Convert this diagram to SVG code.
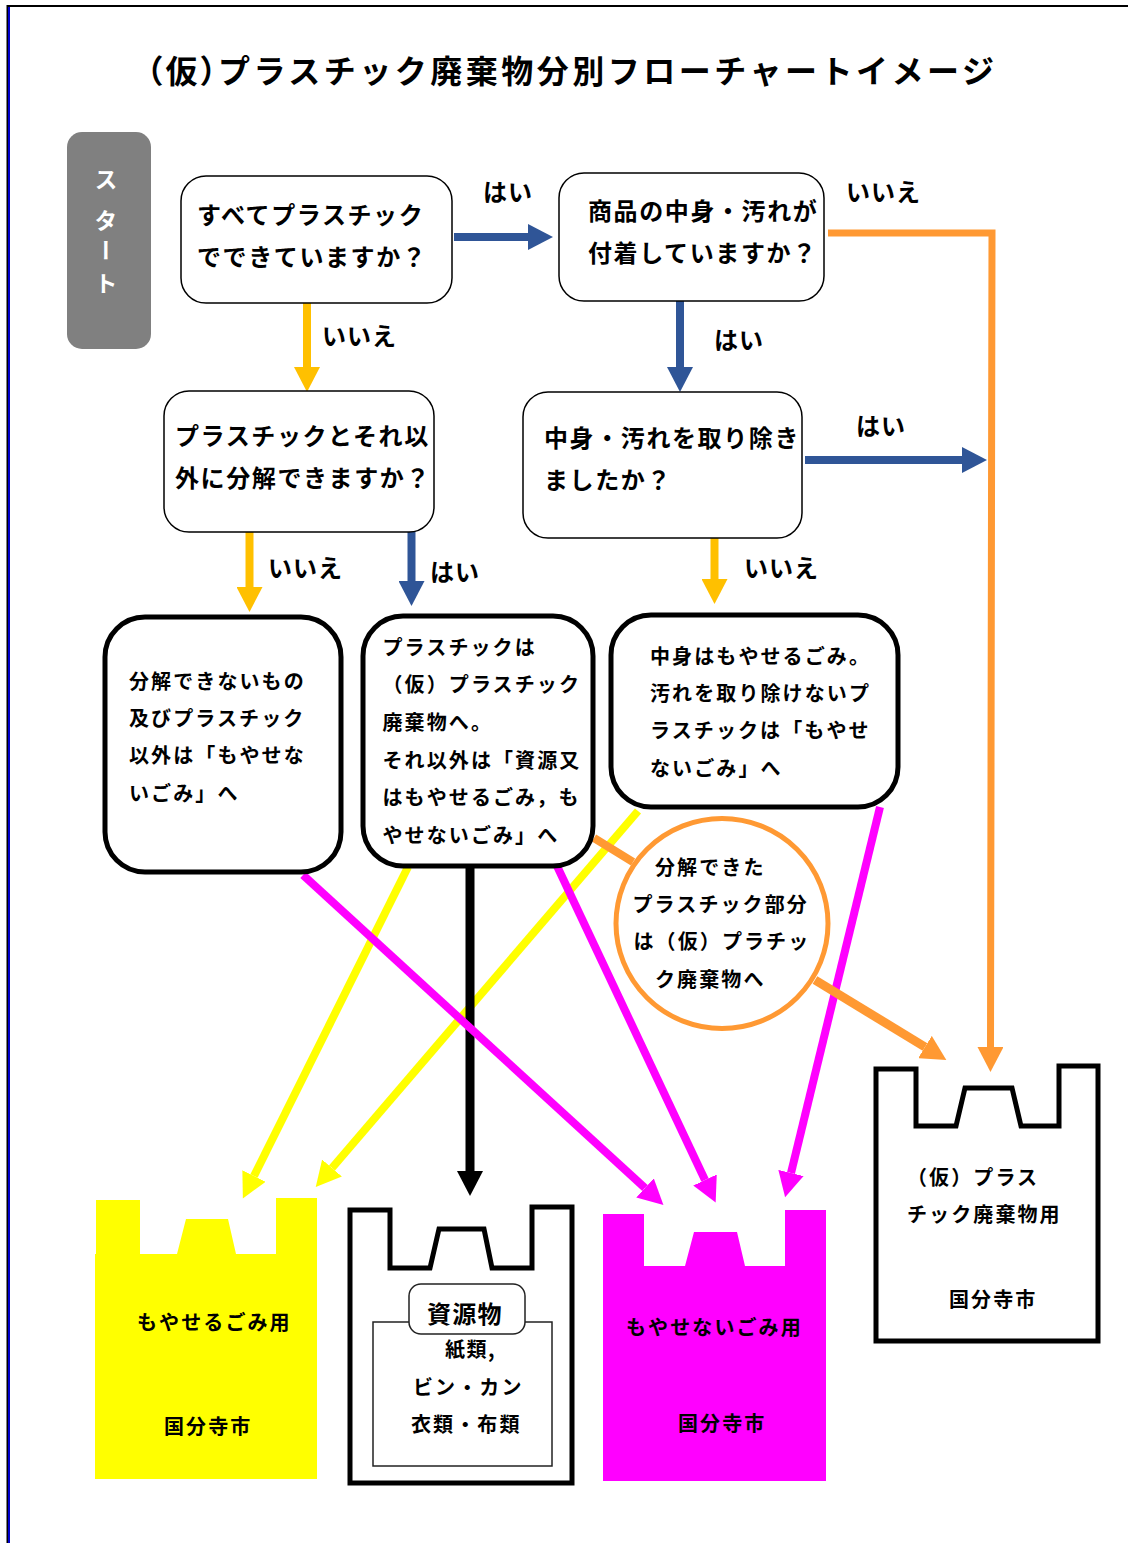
<svg xmlns="http://www.w3.org/2000/svg" width="1128" height="1543" viewBox="0 0 1128 1543">
<style>
text{font-family:"Noto Sans CJK JP","Noto Sans",sans-serif;font-weight:700;fill:#000}
.q{font-size:24px;letter-spacing:1.6px}
.l{font-size:24px;letter-spacing:1px}
.r{font-size:20px;letter-spacing:2.100px}
.title{font-size:32px;letter-spacing:3.500px;font-weight:700}
.box{fill:#fff;stroke:#000;stroke-width:1.5}
.res{fill:#fff;stroke:#000;stroke-width:5}
.bag{fill:#fff;stroke:#000;stroke-width:5}
.c{fill:none}
.blue{stroke:#2F5597;stroke-width:8}
.amber{stroke:#FFC000;stroke-width:8}
.orange{stroke:#FF9933;stroke-width:7}
.yellow{stroke:#FFFF00;stroke-width:8}
.mag{stroke:#FF00FF;stroke-width:8}
.black{stroke:#000;stroke-width:9}
</style>
<defs>
<marker id="mb" markerUnits="userSpaceOnUse" markerWidth="26" markerHeight="26" refX="0" refY="13" orient="auto"><path d="M0 0L25 13L0 26Z" fill="#2F5597"/></marker>
<marker id="ma" markerUnits="userSpaceOnUse" markerWidth="26" markerHeight="26" refX="0" refY="13" orient="auto"><path d="M0 0L25 13L0 26Z" fill="#FFC000"/></marker>
<marker id="mo" markerUnits="userSpaceOnUse" markerWidth="26" markerHeight="26" refX="0" refY="13" orient="auto"><path d="M0 0L25 13L0 26Z" fill="#FF9933"/></marker>
<marker id="my" markerUnits="userSpaceOnUse" markerWidth="26" markerHeight="26" refX="0" refY="13" orient="auto"><path d="M0 0L25 13L0 26Z" fill="#FFFF00"/></marker>
<marker id="mm" markerUnits="userSpaceOnUse" markerWidth="26" markerHeight="26" refX="0" refY="13" orient="auto"><path d="M0 0L25 13L0 26Z" fill="#FF00FF"/></marker>
<marker id="mk" markerUnits="userSpaceOnUse" markerWidth="26" markerHeight="26" refX="0" refY="13" orient="auto"><path d="M0 0L25 13L0 26Z" fill="#000"/></marker>
</defs>
<rect width="1128" height="1543" fill="#fff"/>
<path d="M1128 6H7.5V1543" fill="none" stroke="#000" stroke-width="2"/>
<path d="M9 7V1543" fill="none" stroke="#0000CC" stroke-width="2"/>
<text id="title" class="title" x="146" y="83"><tspan style="font-feature-settings:'palt'">（仮）</tspan><tspan x="218">プラスチック廃棄物分別フローチャートイメージ</tspan></text>

<g id="connectors">
<path class="c yellow" d="M408 867L254 1176" marker-end="url(#my)"/>
<path class="c yellow" d="M638 811L332 1168" marker-end="url(#my)"/>
<path class="c black" d="M470 867V1171" marker-end="url(#mk)"/>
<path class="c mag" d="M303 875L645 1188" marker-end="url(#mm)"/>
<path class="c mag" d="M557 866L705 1180" marker-end="url(#mm)"/>
<path class="c mag" d="M880 807L791 1173" marker-end="url(#mm)"/>
<path class="c blue" d="M454 237H528" marker-end="url(#mb)"/>
<path class="c blue" d="M680 301V367" marker-end="url(#mb)"/>
<path class="c blue" d="M805 460H962" marker-end="url(#mb)"/>
<path class="c blue" d="M411.500 532V581" marker-end="url(#mb)"/>
<path class="c amber" d="M307 303V367" marker-end="url(#ma)"/>
<path class="c amber" d="M249.500 532V587" marker-end="url(#ma)"/>
<path class="c amber" d="M714.500 537V579" marker-end="url(#ma)"/>
<path class="c orange" d="M828 233H992L990.500 1047" marker-end="url(#mo)"/>
<path class="c orange" d="M594 838L633 862" style="stroke-width:8"/>
<path class="c orange" d="M815 980L925 1047" style="stroke-width:9" marker-end="url(#mo)"/>
</g>

<g id="start"><rect x="67" y="132" width="84" height="217" rx="15" fill="#808080"/>
<text x="106" y="168" style="writing-mode:vertical-rl;font-size:23px;letter-spacing:11px;fill:#fff">ス<tspan dy="7">タ</tspan><tspan dy="-4">ー</tspan><tspan dy="-1">ト</tspan></text></g>

<g id="q1"><rect class="box" x="181" y="176" width="271" height="127" rx="25"/><text class="q" x="197" y="224">すべてプラスチック</text><text class="q" x="197" y="266">でできていますか？</text></g>
<g id="q2"><rect class="box" x="559" y="173" width="265" height="128" rx="25"/><text class="q" x="588" y="220">商品の中身・汚れが</text><text class="q" x="588" y="262">付着していますか？</text></g>
<g id="q3"><rect class="box" x="164" y="391" width="270" height="141" rx="25"/><text class="q" x="175" y="445">プラスチックとそれ以</text><text class="q" x="175" y="487">外に分解できますか？</text></g>
<g id="q4"><rect class="box" x="523" y="392" width="279" height="146" rx="25"/><text class="q" x="544" y="447">中身・汚れを取り除き</text><text class="q" x="544" y="489">ましたか？</text></g>

<g id="labels">
<text class="l" x="483" y="201">はい</text>
<text class="l" x="846" y="201">いいえ</text>
<text class="l" x="322" y="345">いいえ</text>
<text class="l" x="714" y="349">はい</text>
<text class="l" x="856" y="435">はい</text>
<text class="l" x="268" y="577">いいえ</text>
<text class="l" x="430" y="581">はい</text>
<text class="l" x="744" y="577">いいえ</text>
</g>

<g id="r1"><rect class="res" x="105" y="617" width="236" height="255" rx="40"/>
<text class="r" x="129" y="689">分解できないもの</text><text class="r" x="129" y="726">及びプラスチック</text><text class="r" x="129" y="763">以外は「もやせな</text><text class="r" x="129" y="801">いごみ」へ</text></g>
<g id="r2"><rect class="res" x="363" y="616" width="230" height="250" rx="40"/>
<text class="r" x="382.500" y="655">プラスチックは</text><text class="r" x="382.500" y="692">（仮）プラスチック</text><text class="r" x="382.500" y="730">廃棄物へ。</text><text class="r" x="382.500" y="768">それ以外は「資源又</text><text class="r" x="382.500" y="805">はもやせるごみ，も</text><text class="r" x="382.500" y="843">やせないごみ」へ</text></g>
<g id="r3"><rect class="res" x="611" y="615" width="287" height="192" rx="40"/>
<text class="r" x="650" y="664">中身はもやせるごみ。</text><text class="r" x="650" y="701">汚れを取り除けないプ</text><text class="r" x="650" y="738">ラスチックは「もやせ</text><text class="r" x="650" y="776">ないごみ」へ</text></g>
<g id="circle"><ellipse cx="722" cy="923.500" rx="106" ry="105" fill="#fff" stroke="#FF9933" stroke-width="5"/>
<text class="r" x="655" y="875">分解できた</text><text class="r" x="632.500" y="912">プラスチック部分</text><text class="r" x="633.500" y="949">は（仮）プラチッ</text><text class="r" x="655" y="987">ク廃棄物へ</text></g>

<g id="bag-yellow"><path fill="#FFFF00" d="M95 1479V1254H96V1200H140V1254H177L186 1219H228L236 1254H276V1198H317V1479Z"/>
<text class="r" x="137" y="1330">もやせるごみ用</text><text class="r" x="164" y="1434">国分寺市</text></g>
<g id="bag-resource"><path class="bag" d="M350 1483V1210H390V1268H430L439 1229H484L492 1268H532V1207H572V1483Z"/>
<rect x="373" y="1322" width="179" height="144" fill="#fff" stroke="#222" stroke-width="1.500"/>
<rect x="409" y="1284" width="116" height="50" rx="12" fill="#fff" stroke="#222" stroke-width="1.500"/>
<text x="427" y="1323" style="font-size:24px;letter-spacing:1.300px">資源物</text>
<text class="r" x="445" y="1357" style="letter-spacing:1.500px">紙類,</text><text class="r" x="413" y="1395">ビン・カン</text><text class="r" x="411" y="1432">衣類・布類</text></g>
<g id="bag-magenta"><path fill="#FF00FF" d="M603 1481V1214H644V1266H685L694 1232H737L745 1266H785V1210H826V1481Z"/>
<text class="r" x="626" y="1335">もやせないごみ用</text><text class="r" x="678" y="1431">国分寺市</text></g>
<g id="bag-plastic"><path class="bag" d="M876 1341V1069H916V1126H956L965 1088H1012L1021 1126H1059V1066H1098V1341Z"/>
<text class="r" x="907" y="1185">（仮）プラス</text><text class="r" x="907" y="1222">チック廃棄物用</text><text class="r" x="949" y="1307">国分寺市</text></g>
</svg>
